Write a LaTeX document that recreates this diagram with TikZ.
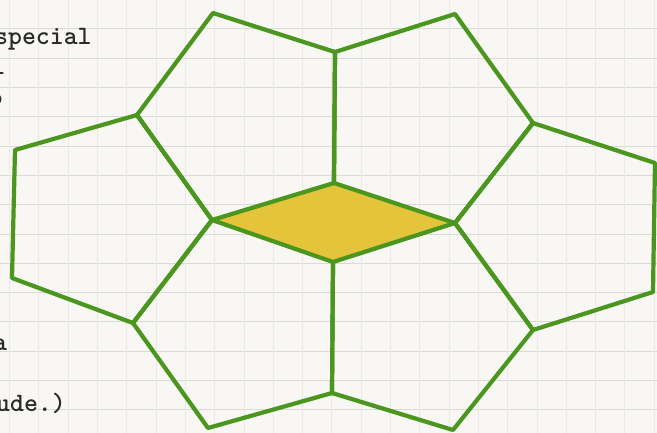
\documentclass[tikz,border=0pt]{standalone}
\usepackage{fontspec}
\usepackage{xcolor}
\definecolor{paperwhite}{HTML}{F8F7F3}
\definecolor{rulegray}{HTML}{D9D9D6}
\definecolor{rulefaint}{HTML}{E9E9E5}
\definecolor{cellgreen}{HTML}{4A961E}
\definecolor{centreyellow}{HTML}{E4C43A}
\definecolor{typeink}{HTML}{2A2A2A}

\begin{document}
\begin{tikzpicture}[
  x = 1pt, y = -1pt,
  font = \ttfamily\bfseries\fontsize{26.5}{30}\selectfont,
  %
  % ── Styles ──────────────────────────────────────────────────────
  paper/.style   = {fill=paperwhite},
  hrule/.style   = {draw=rulegray, line width=0.7pt},
  vrule/.style   = {draw=rulefaint, line width=0.6pt},
  typed/.style   = {anchor=base west, inner sep=0pt, text=typeink},
  centre/.style  = {fill=centreyellow},
  edge/.style    = {draw=cellgreen, line width=4.2pt, line join=round},
]

%% ═══════════════════════════════════════════════════════════════════
%% SHEET — ruled paper, cut to the frame
%% ═══════════════════════════════════════════════════════════════════

\useasboundingbox (0,0) rectangle (657,433);
\clip (0,0) rectangle (657,433);
\fill[paper] (0,0) rectangle (657,433);

\foreach \k in {0,...,15}
  \draw[hrule] (0,{-0.5+29.3*\k}) -- (657,{-0.5+29.3*\k});
\foreach \k in {0,...,22}
  \draw[vrule] ({9.4+29.3*\k},0) -- ({9.4+29.3*\k},433);

%% ── Typed text, cut by the left margin ──────────────────────────
\node[typed] (txt-a) at (-6,45)  {special};
\node[typed] (txt-b) at (-9,75)  {l};
\node[typed] (txt-c) at (-11,106) {o};
\node[typed] (txt-d) at (-7,351) {a};
\node[typed] (txt-e) at (-4,411) {ude.)};

%% ═══════════════════════════════════════════════════════════════════
%% FIGURE — rhombus with six pentagons round it
%% ═══════════════════════════════════════════════════════════════════

% Central rhombus
\coordinate (rh-l) at (212,220);
\coordinate (rh-t) at (334,183);
\coordinate (rh-r) at (455,223);
\coordinate (rh-b) at (333,262);

% Outer ring, clockwise from upper left
\coordinate (tl-out)  at (137,115);
\coordinate (tl-top)  at (213,13);
\coordinate (top-mid) at (335,52);
\coordinate (tr-top)  at (455,14);
\coordinate (tr-out)  at (533,123);
\coordinate (rt-top)  at (655,163);
\coordinate (rt-bot)  at (653,292);
\coordinate (br-out)  at (533,330);
\coordinate (br-bot)  at (453,430);
\coordinate (bot-mid) at (332,393);
\coordinate (bl-bot)  at (208,428);
\coordinate (bl-out)  at (133,323);
\coordinate (lf-bot)  at (12,278);
\coordinate (lf-top)  at (15,150);

\fill[centre] (rh-l) -- (rh-t) -- (rh-r) -- (rh-b) -- cycle;

%% ── Pentagons ───────────────────────────────────────────────────
\draw[edge] (rh-l) -- (tl-out) -- (tl-top) -- (top-mid) -- (rh-t) -- cycle;
\draw[edge] (rh-t) -- (top-mid) -- (tr-top) -- (tr-out) -- (rh-r) -- cycle;
\draw[edge] (rh-r) -- (tr-out) -- (rt-top) -- (rt-bot) -- (br-out) -- cycle;
\draw[edge] (rh-b) -- (rh-r) -- (br-out) -- (br-bot) -- (bot-mid) -- cycle;
\draw[edge] (rh-l) -- (rh-b) -- (bot-mid) -- (bl-bot) -- (bl-out) -- cycle;
\draw[edge] (rh-l) -- (bl-out) -- (lf-bot) -- (lf-top) -- (tl-out) -- cycle;

\end{tikzpicture}
\end{document}
